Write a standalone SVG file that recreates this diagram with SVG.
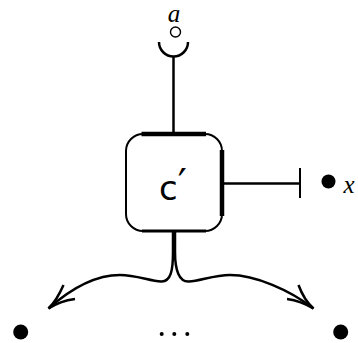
<svg xmlns="http://www.w3.org/2000/svg" width="358" height="343" viewBox="0 0 358 343">
<style>
.ln{fill:none;stroke:#000;stroke-width:2.5;stroke-linecap:butt}
.thick{fill:none;stroke:#000;stroke-width:4.5}
.box{fill:#fff;stroke:#000;stroke-width:2}
.math{font-family:"Liberation Serif","DejaVu Serif",serif;font-style:italic;font-size:25px}
.lbl{font-family:"DejaVu Sans","Liberation Sans",sans-serif;font-size:34px}
</style>
<g id="connectors">
<line class="ln" x1="173.5" y1="57" x2="173.5" y2="134"/>
<line class="ln" x1="222" y1="183.5" x2="300" y2="183.5"/>
<line class="ln" x1="300" y1="168" x2="300" y2="198" style="stroke-width:2"/>
<path class="ln" d="M173 231 L173 252 C173 270 171 282 161 281.5 C150 281 136 275 120 275 C100 275 75 285 48.5 308.5"/>
<path class="ln" d="M63.5 285 Q57 300 48.5 308.5 Q60 301 75 299"/>
<path class="ln" d="M175 231 L175 252 C175 270 179 282 189 281.5 C200 281 214 275 230 275 C255 275 290 290 313.5 308.5"/>
<path class="ln" d="M298.5 285 Q304 300 313.5 308.5 Q301 301 287 299"/>
</g>
<g id="socket-a">
<path class="ln" d="M159 42 A14.5 14.5 0 0 0 188 42"/>
<circle cx="175.5" cy="32" r="5" fill="none" stroke="#000" stroke-width="1.4"/>
<text class="math" x="174" y="22" text-anchor="middle">a</text>
</g>
<g id="node-c">
<rect class="box" x="126" y="134" width="96" height="97" rx="17" ry="17"/>
<line class="thick" x1="141.5" y1="134" x2="206" y2="134"/>
<line class="thick" x1="222" y1="150" x2="222" y2="216"/>
<line x1="142" y1="231" x2="206" y2="231" stroke="#000" stroke-width="3"/>
<text class="lbl" x="173" y="200" text-anchor="middle">c<tspan font-size="40" dy="-2">′</tspan></text>
</g>
<g id="node-x">
<circle cx="328.5" cy="181.5" r="7"/>
<text class="math" x="349" y="193" text-anchor="middle">x</text>
</g>
<g id="bottom">
<circle cx="20.7" cy="332" r="7.5"/>
<circle cx="340.7" cy="332" r="7.5"/>
<circle cx="161.7" cy="334" r="2"/>
<circle cx="174.3" cy="334" r="2"/>
<circle cx="187.3" cy="334" r="2"/>
</g>
</svg>
